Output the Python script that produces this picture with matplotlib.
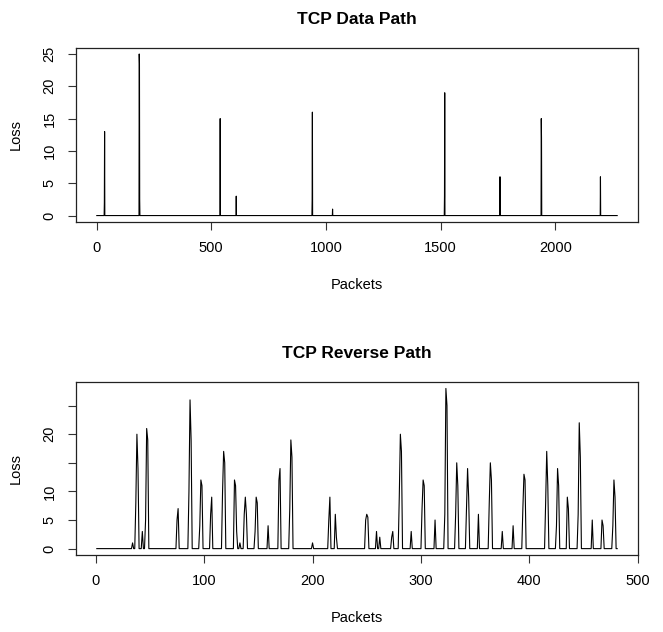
import numpy as np
import matplotlib
matplotlib.use("Agg")
import matplotlib.pyplot as plt

plt.rcParams['font.family'] = ['Liberation Sans', 'DejaVu Sans']

# TCP data path: packets with loss > 0 (all other packets have loss 0)
data_n = 2270
data_pkt = [34, 35, 186, 187, 188, 539, 609, 940, 941, 1029,
            1517, 1518, 1759, 1939, 1940, 2197]
data_loss = [2, 13, 25, 23.5, 2.5, 15, 3, 2.5, 16, 1,
             3, 19, 6, 15, 12, 6]

# TCP reverse path: packets with loss > 0
rev_n = 481
rev_pkt = [34, 37, 38, 39, 43, 46, 47, 48, 75, 76,
           86, 87, 88, 96, 97, 98, 106, 107, 117, 118, 119,
           128, 129, 130, 133, 137, 138, 139, 147, 148, 149,
           159, 169, 170, 179, 180, 181, 200, 215, 216, 221, 222,
           249, 250, 251, 259, 262, 273, 274, 280, 281, 282, 291,
           301, 302, 303, 313, 322, 323, 324, 332, 333, 334,
           342, 343, 344, 353, 363, 364, 365, 375, 385,
           394, 395, 396, 415, 416, 417, 425, 426, 427,
           435, 436, 445, 446, 447, 458, 467, 468, 477, 478, 479]
rev_loss = [1, 8, 20, 14, 3, 5, 21, 19, 5, 7,
            10, 26, 19, 4, 12, 11, 6, 9, 10, 17, 15,
            12, 11, 3, 1, 6, 9, 6, 3, 9, 8,
            4, 12, 14, 7, 19, 16, 1, 5, 9, 6, 2,
            5, 6, 5.5, 3, 2, 2, 3, 9, 20, 17, 3,
            7, 12, 11, 5, 6, 28, 25, 6, 15, 11,
            7, 14, 9, 6, 8, 15, 12, 3, 4,
            7, 13, 12, 8, 17, 11, 4, 14, 11,
            9, 7, 6, 22, 16, 5, 5, 4, 4, 12, 9]


def series(n, pkts, losses):
    x = np.arange(1, n + 1)
    y = np.zeros(n)
    for p, l in zip(pkts, losses):
        y[p - 1] = l
    return x, y


def style(ax, title, xticks, yticks, ylabels):
    ax.set_title(title, fontsize=12.5, fontweight='bold', pad=17)
    ax.set_xlabel('Packets', fontsize=10.5, labelpad=16)
    ax.set_ylabel('Loss', fontsize=10.5, labelpad=14)
    ax.set_xticks(xticks)
    ax.set_xticklabels([str(t) for t in xticks])
    ax.set_yticks(yticks)
    ax.set_yticklabels(ylabels, rotation=90, va='center')
    ax.tick_params(direction='out', length=6, width=0.8, labelsize=10.5,
                   pad=8, color='#333333')
    for s in ax.spines.values():
        s.set_linewidth(0.9)
        s.set_color('#222222')


fig = plt.figure(figsize=(6.63, 6.32), dpi=100)

ax1 = fig.add_axes([0.1146, 0.6487, 0.8477, 0.2761])
x, y = series(data_n, data_pkt, data_loss)
ax1.plot(x, y, color='black', lw=0.8)
ax1.set_xlim(1 - 0.04 * (data_n - 1), data_n + 0.04 * (data_n - 1))
ax1.set_ylim(-1, 26)
style(ax1, 'TCP Data Path', [0, 500, 1000, 1500, 2000],
      [0, 5, 10, 15, 20, 25], ['0', '5', '10', '15', '20', '25'])

ax2 = fig.add_axes([0.1146, 0.1218, 0.8477, 0.2737])
x, y = series(rev_n, rev_pkt, rev_loss)
ax2.plot(x, y, color='black', lw=0.8)
ax2.set_xlim(1 - 0.04 * (rev_n - 1), rev_n + 0.04 * (rev_n - 1))
ax2.set_ylim(-1.12, 29.12)
style(ax2, 'TCP Reverse Path', [0, 100, 200, 300, 400, 500],
      [0, 5, 10, 15, 20, 25], ['0', '5', '10', '', '20', ''])

fig.savefig('out.png', dpi=100)
